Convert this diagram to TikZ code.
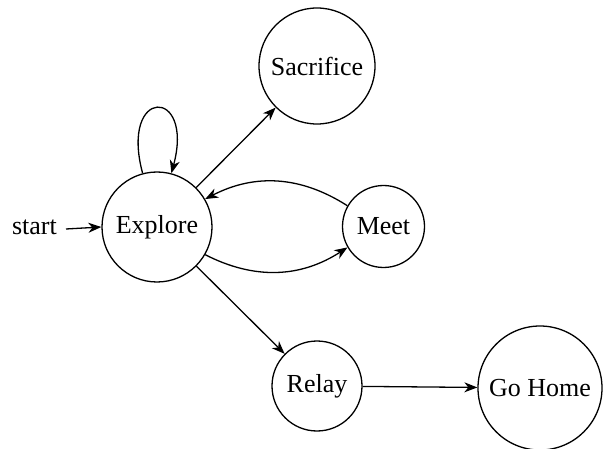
\documentclass[tikz,border=0pt]{standalone}
\usepackage{fontspec}
\setmainfont{Liberation Serif}
\usetikzlibrary{arrows.meta}
\begin{document}
\begin{tikzpicture}[x=1pt,y=-1pt,
  every node/.style={font=\fontsize{26}{30}\selectfont},
  state/.style={draw,circle,line width=1.3pt,inner sep=0pt},
  edge/.style={-{Stealth[length=13pt,width=10pt,inset=4pt]},line width=1.3pt}]
\useasboundingbox (0,0) rectangle (608,449);
\node[state,minimum size=110pt] (E) at (157,227) {Explore};
\node[state,minimum size=116pt] (S) at (317,66) {Sacrifice};
\node[state,minimum size=82pt] (M) at (383.5,226.5) {Meet};
\node[state,minimum size=90pt] (R) at (317,386) {Relay};
\node[state,minimum size=124pt] (G) at (540,388) {Go Home};
\node[anchor=east,inner sep=0pt] (st) at (57,227) {start};
\coordinate (sta) at (66,229);
\draw[edge] (sta) -- (E.west);
\draw[edge] (E) to[out=105,in=75,looseness=8] (E);
\draw[edge] (E) -- (S);
\draw[edge] (E) to[bend right=30] (M);
\draw[edge] (M) to[bend right=30] (E);
\draw[edge] (E) -- (R);
\draw[edge] (R) -- (G);
\end{tikzpicture}
\end{document}
